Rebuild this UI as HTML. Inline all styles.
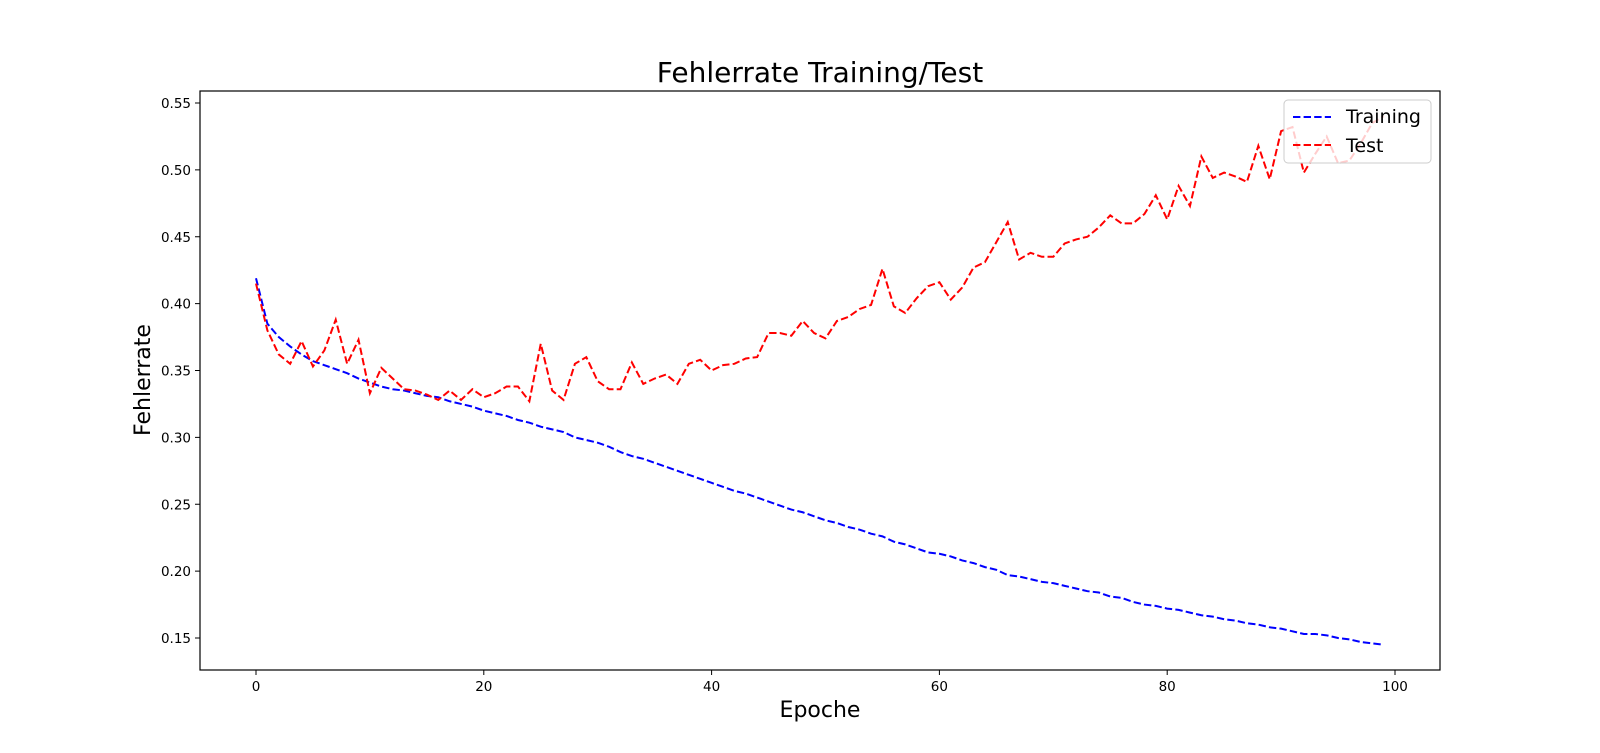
<!DOCTYPE html>
<html><head><meta charset="utf-8"><style>
html,body{margin:0;padding:0;background:#fff;}
svg{display:block;font-family:"DejaVu Sans","Liberation Sans",sans-serif;}
</style></head><body>
<svg id="chart" width="1600" height="753">
<text x="820" y="82" text-anchor="middle" font-size="28" fill="#000">Fehlerrate Training/Test</text>
<text x="820" y="717" text-anchor="middle" font-size="22" fill="#000">Epoche</text>
<text x="0" y="0" transform="translate(150,380) rotate(-90)" text-anchor="middle" font-size="22" fill="#000">Fehlerrate</text>
<g id="series"></g>
<g id="axes"></g>
<g>
<rect x="1284" y="100" width="147" height="63" rx="4" fill="#fff" fill-opacity="0.8" stroke="#ccc"/>
<line x1="1293" y1="117" x2="1331" y2="117" stroke="#00f" stroke-width="2" stroke-dasharray="7.4,3.2"/>
<text x="1346" y="123" font-size="19" fill="#000">Training</text>
<line x1="1293" y1="145" x2="1331" y2="145" stroke="#f00" stroke-width="2" stroke-dasharray="7.4,3.2"/>
<text x="1346" y="152" font-size="19" fill="#000">Test</text>
</g>
</svg>
<script>
const xTicks = [0, 20, 40, 60, 80, 100];
const yTicks = [0.15, 0.20, 0.25, 0.30, 0.35, 0.40, 0.45, 0.50, 0.55];
const yTickLabels = ["0.15","0.20","0.25","0.30","0.35","0.40","0.45","0.50","0.55"];
const training = [
.419,.385,.375,.368,.362,.357,.354,.351,.348,.344,
.341,.338,.336,.335,.333,.331,.330,.327,.325,.323,
.320,.318,.316,.313,.311,.308,.306,.304,.300,.298,
.296,.293,.289,.286,.284,.281,.278,.275,.272,.269,
.266,.263,.260,.258,.255,.252,.249,.246,.244,.241,
.238,.236,.233,.231,.228,.226,.222,.220,.217,.214,
.213,.211,.208,.206,.203,.201,.197,.196,.194,.192,
.191,.189,.187,.185,.184,.181,.180,.177,.175,.174,
.172,.171,.169,.167,.166,.164,.163,.161,.160,.158,
.157,.155,.153,.153,.152,.150,.149,.147,.146,.145];
const test = [
.415,.380,.362,.355,.372,.353,.365,.388,.355,.373,
.333,.352,.344,.336,.335,.332,.328,.335,.328,.336,
.330,.333,.338,.338,.327,.370,.335,.328,.355,.360,
.342,.336,.336,.356,.340,.344,.347,.340,.355,.358,
.350,.354,.355,.359,.360,.378,.378,.376,.387,.378,
.374,.387,.390,.396,.399,.426,.398,.393,.404,.413,
.416,.403,.412,.427,.431,.446,.461,.433,.438,.435,
.435,.445,.448,.450,.457,.466,.460,.460,.467,.481,
.463,.488,.473,.510,.494,.498,.495,.491,.518,.493,
.529,.532,.498,.512,.525,.505,.507,.520,.535,.540];

const NS = "http://www.w3.org/2000/svg";
const L = 200, R = 1440, T = 91, B = 670;
function xs(v){ return 256 + (v - 0) * (1395 - 256) / 100; }
function ys(v){ return 638 - (v - 0.15) * (638 - 103) / 0.40; }
function mk(tag, attrs, parent){ const e = document.createElementNS(NS, tag); for (const k in attrs) e.setAttribute(k, attrs[k]); parent.appendChild(e); return e; }

const series = document.getElementById('series');
function drawLine(vals, color, name){
  const d = vals.map((v,i)=>(i?'L':'M')+xs(i).toFixed(2)+','+ys(v).toFixed(2)).join(' ');
  const p = mk('path', {d:d, fill:'none', stroke:color, 'stroke-width':2, 'stroke-dasharray':'7.4,3.2'}, series);
  
  
}
drawLine(training, '#0000ff', 'training-line');
drawLine(test, '#ff0000', 'test-line');

const axes = document.getElementById('axes');
const frame = mk('rect', {x:L, y:T, width:R-L, height:B-T, fill:'none', stroke:'#000', 'stroke-width':1.2}, axes);


xTicks.forEach(v=>{
  const x = xs(v);
  const t = mk('line', {x1:x, y1:B, x2:x, y2:B+5, stroke:'#000', 'stroke-width':1}, axes);
  
  
  const lb = mk('text', {x:x, y:B+21, 'text-anchor':'middle', 'font-size':13.5, fill:'#000'}, axes);
  lb.textContent = String(v);
  
  
});
yTicks.forEach((v,i)=>{
  const y = ys(v);
  const t = mk('line', {x1:L-5, y1:y, x2:L, y2:y, stroke:'#000', 'stroke-width':1}, axes);
  
  
  const lb = mk('text', {x:L-9, y:y+5, 'text-anchor':'end', 'font-size':13.5, fill:'#000'}, axes);
  lb.textContent = yTickLabels[i];
  
  
});
</script>
</body></html>
